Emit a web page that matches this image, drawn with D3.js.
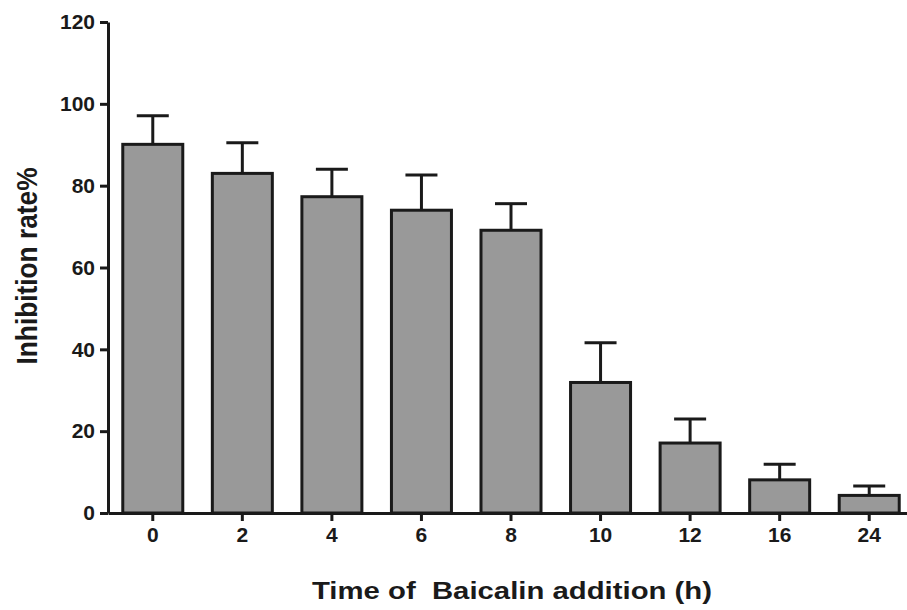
<!DOCTYPE html>
<html>
<head>
<meta charset="utf-8">
<script src="https://cdn.jsdelivr.net/npm/d3@7"></script>
<style>
  body { margin: 0; background: #fff; }
  svg text { font-family: "Liberation Sans", Arial, sans-serif; font-weight: bold; fill: #1a1a1a; }
</style>
</head>
<body>
<div id="chart"></div>
<script>
var categories = ["0", "2", "4", "6", "8", "10", "12", "16", "24"];
var means = [90.1, 83.0, 77.3, 74.0, 69.1, 31.9, 17.1, 8.1, 4.3];
var errors = [7.0, 7.5, 6.7, 8.6, 6.5, 9.7, 5.9, 3.8, 2.3];
var yTicks = [0, 20, 40, 60, 80, 100, 120];

var width = 907,
    height = 610;

var svg = d3.select("#chart").append("svg")
    .attr("width", width)
    .attr("height", height);

var x = d3.scaleBand()
    .domain(categories)
    .range([108, 914])
    .paddingInner(0.33)
    .paddingOuter(0.165);

var y = d3.scaleLinear()
    .domain([0, 120])
    .range([513, 22]);

// bars
svg.selectAll(".bar")
    .data(means)
    .enter().append("rect")
    .attr("class", "bar")
    .attr("x", function(d, i) { return x(categories[i]); })
    .attr("y", function(d) { return y(d); })
    .attr("width", x.bandwidth())
    .attr("height", function(d) { return y(0) - y(d); })
    .style("fill", "#999999")
    .style("stroke", "#1a1a1a")
    .style("stroke-width", 3);

// error bars (upper only)
var capW = 32;
var eb = svg.selectAll(".err")
    .data(means)
    .enter().append("g")
    .attr("class", "err")
    .style("stroke", "#1a1a1a")
    .style("stroke-width", 3);

eb.append("line")
    .attr("x1", function(d, i) { return x(categories[i]) + x.bandwidth() / 2; })
    .attr("x2", function(d, i) { return x(categories[i]) + x.bandwidth() / 2; })
    .attr("y1", function(d) { return y(d); })
    .attr("y2", function(d, i) { return y(d + errors[i]); });

eb.append("line")
    .attr("x1", function(d, i) { return x(categories[i]) + x.bandwidth() / 2 - capW / 2; })
    .attr("x2", function(d, i) { return x(categories[i]) + x.bandwidth() / 2 + capW / 2; })
    .attr("y1", function(d, i) { return y(d + errors[i]); })
    .attr("y2", function(d, i) { return y(d + errors[i]); });

// y axis
svg.append("g")
    .attr("transform", "translate(108,0)")
    .call(d3.axisLeft(y).tickValues(yTicks).tickSize(8).tickPadding(5).tickSizeOuter(0));

// x axis
svg.append("g")
    .attr("transform", "translate(0,513)")
    .call(d3.axisBottom(x).tickSize(8).tickPadding(6).tickSizeOuter(0));

svg.selectAll(".domain, .tick line")
    .style("stroke", "#1a1a1a")
    .style("stroke-width", 3);

svg.selectAll(".tick text")
    .attr("font-family", "Liberation Sans, Arial, sans-serif")
    .attr("font-weight", "bold")
    .style("font-size", "21px")
    .style("fill", "#1a1a1a");

// axis titles
svg.append("text")
    .attr("x", 512)
    .attr("y", 599)
    .attr("text-anchor", "middle")
    .attr("textLength", 400)
    .attr("lengthAdjust", "spacingAndGlyphs")
    .attr("xml:space", "preserve")
    .style("font-size", "24px")
    .style("white-space", "pre")
    .text("Time of  Baicalin addition (h)");

svg.append("text")
    .attr("transform", "translate(37,266) rotate(-90)")
    .attr("text-anchor", "middle")
    .attr("textLength", 197)
    .attr("lengthAdjust", "spacingAndGlyphs")
    .style("font-size", "30px")
    .text("Inhibition rate%");
</script>
</body>
</html>
